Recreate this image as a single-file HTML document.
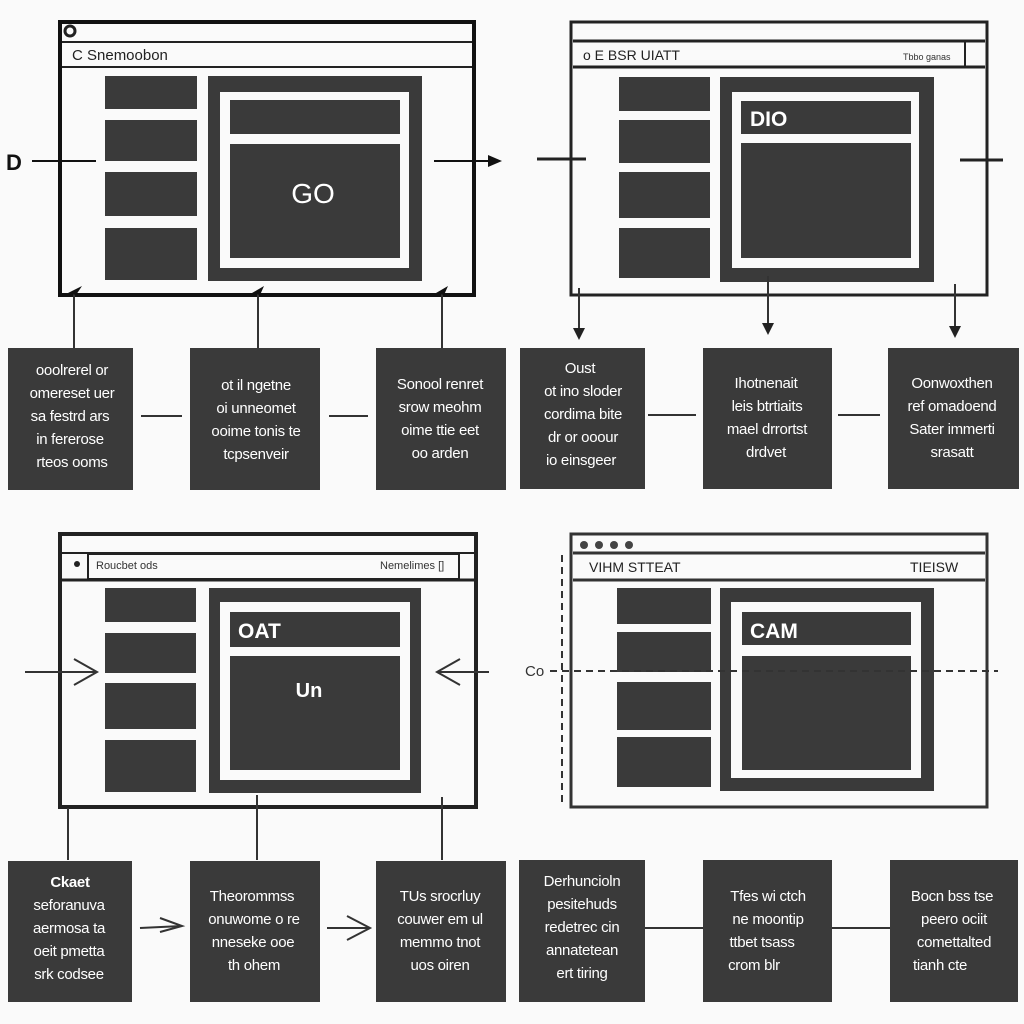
<!DOCTYPE html>
<html><head><meta charset="utf-8"><style>
html,body{margin:0;padding:0;background:#fafafa;width:1024px;height:1024px;overflow:hidden}
svg{display:block}
.bt{font-family:"Liberation Sans",sans-serif;font-size:15px;fill:#fff;text-anchor:middle;letter-spacing:-0.3px}
.d{fill:#3a3a3a}
.w{fill:#fafafa}
.ln{stroke:#333;stroke-width:2;fill:none}
</style></head><body>
<svg width="1024" height="1024" viewBox="0 0 1024 1024" xmlns="http://www.w3.org/2000/svg">
<rect width="1024" height="1024" fill="#fafafa"/>

<!-- Q1 -->
<rect x="60" y="22" width="414" height="273" fill="#fafafa" stroke="#111" stroke-width="4"/>
<line x1="62" y1="42" x2="472" y2="42" stroke="#222" stroke-width="2"/>
<line x1="62" y1="67" x2="472" y2="67" stroke="#222" stroke-width="2"/>
<circle cx="70" cy="31" r="5" fill="none" stroke="#222" stroke-width="3"/>
<text x="72" y="60" font-family="Liberation Sans,sans-serif" font-size="15" fill="#222">C  Snemoobon</text>
<rect x="105" y="76" width="92" height="33" class="d"/>
<rect x="105" y="120" width="92" height="41" class="d"/>
<rect x="105" y="172" width="92" height="44" class="d"/>
<rect x="105" y="228" width="92" height="52" class="d"/>
<rect x="208" y="76" width="214" height="205" class="d"/>
<rect x="220" y="92" width="189" height="176" fill="#fafafa"/>
<rect x="230" y="100" width="170" height="34" class="d"/>
<rect x="230" y="144" width="170" height="114" class="d"/>
<text x="313" y="203" font-family="Liberation Sans,sans-serif" font-size="28" fill="#fff" text-anchor="middle">GO</text>
<text x="6" y="170" font-family="Liberation Sans,sans-serif" font-size="22" font-weight="bold" fill="#111">D</text>
<line x1="32" y1="161" x2="96" y2="161" stroke="#111" stroke-width="2"/>
<line x1="434" y1="161" x2="492" y2="161" stroke="#111" stroke-width="2"/>
<polygon points="502,161 488,155 488,167" fill="#111"/>
<line x1="74" y1="348" x2="74" y2="292" class="ln"/><polygon points="68,293 82,286 76,295" fill="#111"/>
<line x1="258" y1="348" x2="258" y2="292" class="ln"/><polygon points="252,293 264,286 260,295" fill="#111"/>
<line x1="442" y1="348" x2="442" y2="292" class="ln"/><polygon points="436,293 448,286 444,295" fill="#111"/>
<line x1="141" y1="416" x2="182" y2="416" class="ln"/>
<line x1="329" y1="416" x2="368" y2="416" class="ln"/>
<rect x="8" y="348" width="125" height="142" class="d"/>
<rect x="190" y="348" width="130" height="142" class="d"/>
<rect x="376" y="348" width="130" height="142" class="d"/>
<text class="bt" x="72" y="375">ooolrerel or</text><text class="bt" x="72" y="398">omereset uer</text><text class="bt" x="70" y="421">sa festrd ars</text><text class="bt" x="70" y="444">in fererose</text><text class="bt" x="72" y="467">rteos ooms</text>
<text class="bt" x="256" y="390">ot il ngetne</text><text class="bt" x="256" y="413">oi unneomet</text><text class="bt" x="256" y="436">ooime tonis te</text><text class="bt" x="256" y="459">tcpsenveir</text>
<text class="bt" x="440" y="389">Sonool renret</text><text class="bt" x="440" y="412">srow meohm</text><text class="bt" x="440" y="435">oime ttie eet</text><text class="bt" x="440" y="458">oo arden</text>

<!-- Q2 -->
<rect x="571" y="22" width="416" height="273" fill="#fafafa" stroke="#222" stroke-width="3"/>
<line x1="573" y1="41" x2="985" y2="41" stroke="#222" stroke-width="3"/>
<line x1="573" y1="67" x2="985" y2="67" stroke="#222" stroke-width="3"/>
<line x1="965" y1="42" x2="965" y2="66" stroke="#222" stroke-width="2"/>
<text x="583" y="60" font-family="Liberation Sans,sans-serif" font-size="14" fill="#222">o   E   BSR UIATT</text>
<text x="903" y="60" font-family="Liberation Sans,sans-serif" font-size="9" fill="#333">Tbbo ganas</text>
<rect x="619" y="77" width="91" height="34" class="d"/>
<rect x="619" y="120" width="91" height="43" class="d"/>
<rect x="619" y="172" width="91" height="46" class="d"/>
<rect x="619" y="228" width="91" height="50" class="d"/>
<rect x="720" y="77" width="214" height="205" class="d"/>
<rect x="732" y="92" width="187" height="176" fill="#fafafa"/>
<rect x="741" y="101" width="170" height="33" class="d"/>
<rect x="741" y="143" width="170" height="115" class="d"/>
<text x="750" y="126" font-family="Liberation Sans,sans-serif" font-size="21" font-weight="bold" fill="#fff">DIO</text>
<line x1="537" y1="159" x2="586" y2="159" stroke="#222" stroke-width="3"/>
<line x1="960" y1="160" x2="1003" y2="160" stroke="#222" stroke-width="3"/>
<line x1="579" y1="288" x2="579" y2="330" class="ln"/><polygon points="573,328 585,328 579,340" fill="#222"/>
<line x1="768" y1="276" x2="768" y2="325" class="ln"/><polygon points="762,323 774,323 768,335" fill="#222"/>
<line x1="955" y1="284" x2="955" y2="328" class="ln"/><polygon points="949,326 961,326 955,338" fill="#222"/>
<line x1="648" y1="415" x2="696" y2="415" class="ln"/>
<line x1="838" y1="415" x2="880" y2="415" class="ln"/>
<rect x="520" y="348" width="125" height="141" class="d"/>
<rect x="703" y="348" width="129" height="141" class="d"/>
<rect x="888" y="348" width="131" height="141" class="d"/>
<text class="bt" x="580" y="373">Oust</text><text class="bt" x="583" y="396">ot ino sloder</text><text class="bt" x="583" y="419">cordima bite</text><text class="bt" x="583" y="442">dr or ooour</text><text class="bt" x="581" y="465">io einsgeer</text>
<text class="bt" x="766" y="388">Ihotnenait</text><text class="bt" x="767" y="411">leis btrtiaits</text><text class="bt" x="767" y="434">mael drrortst</text><text class="bt" x="766" y="457">drdvet</text>
<text class="bt" x="952" y="388">Oonwoxthen</text><text class="bt" x="952" y="411">ref omadoend</text><text class="bt" x="952" y="434">Sater immerti</text><text class="bt" x="952" y="457">srasatt</text>

<!-- Q3 -->
<rect x="60" y="534" width="416" height="273" fill="#fafafa" stroke="#222" stroke-width="4"/>
<line x1="62" y1="553" x2="474" y2="553" stroke="#222" stroke-width="2"/>
<line x1="62" y1="580" x2="474" y2="580" stroke="#222" stroke-width="3"/>
<rect x="88" y="554" width="371" height="25" fill="none" stroke="#222" stroke-width="2"/>
<circle cx="77" cy="564" r="3" fill="#222"/>
<text x="96" y="569" font-family="Liberation Sans,sans-serif" font-size="11" fill="#333">Roucbet ods</text>
<text x="380" y="569" font-family="Liberation Sans,sans-serif" font-size="11" fill="#333">Nemelimes  []</text>
<rect x="105" y="588" width="91" height="34" class="d"/>
<rect x="105" y="633" width="91" height="40" class="d"/>
<rect x="105" y="683" width="91" height="46" class="d"/>
<rect x="105" y="740" width="91" height="52" class="d"/>
<rect x="209" y="588" width="212" height="205" class="d"/>
<rect x="220" y="602" width="190" height="178" fill="#fafafa"/>
<rect x="230" y="612" width="170" height="35" class="d"/>
<rect x="230" y="656" width="170" height="114" class="d"/>
<text x="238" y="638" font-family="Liberation Sans,sans-serif" font-size="21" font-weight="bold" fill="#fff">OAT</text>
<text x="309" y="697" font-family="Liberation Sans,sans-serif" font-size="20" font-weight="bold" fill="#fff" text-anchor="middle">Un</text>
<line x1="25" y1="672" x2="97" y2="672" class="ln"/><polyline points="74,659 97,672 74,685" class="ln"/>
<line x1="437" y1="672" x2="489" y2="672" class="ln"/><polyline points="460,659 437,672 460,685" class="ln"/>
<line x1="68" y1="808" x2="68" y2="860" class="ln"/>
<line x1="257" y1="795" x2="257" y2="860" class="ln"/>
<line x1="442" y1="797" x2="442" y2="860" class="ln"/>
<line x1="140" y1="928" x2="182" y2="926" class="ln"/><polyline points="160,918 182,926 160,932" class="ln"/>
<line x1="327" y1="928" x2="370" y2="928" class="ln"/><polyline points="347,916 370,928 347,940" class="ln"/>
<rect x="8" y="861" width="124" height="141" class="d"/>
<rect x="190" y="861" width="130" height="141" class="d"/>
<rect x="376" y="861" width="130" height="141" class="d"/>
<text class="bt" x="70" y="887" font-weight="bold">Ckaet</text><text class="bt" x="69" y="910">seforanuva</text><text class="bt" x="69" y="933">aermosa ta</text><text class="bt" x="69" y="956">oeit pmetta</text><text class="bt" x="69" y="979">srk codsee</text>
<text class="bt" x="252" y="901">Theorommss</text><text class="bt" x="254" y="924">onuwome o re</text><text class="bt" x="253" y="947">nneseke ooe</text><text class="bt" x="254" y="970">th ohem</text>
<text class="bt" x="440" y="901">TUs srocrluy</text><text class="bt" x="440" y="924">couwer em ul</text><text class="bt" x="440" y="947">memmo tnot</text><text class="bt" x="440" y="970">uos oiren</text>

<!-- Q4 -->
<rect x="571" y="534" width="416" height="273" fill="#fafafa" stroke="#333" stroke-width="3"/>
<line x1="573" y1="553" x2="985" y2="553" stroke="#333" stroke-width="3"/>
<line x1="573" y1="580" x2="985" y2="580" stroke="#333" stroke-width="3"/>
<circle cx="584" cy="545" r="4" fill="#444"/><circle cx="599" cy="545" r="4" fill="#444"/><circle cx="614" cy="545" r="4" fill="#444"/><circle cx="629" cy="545" r="4" fill="#444"/>
<text x="589" y="572" font-family="Liberation Sans,sans-serif" font-size="14" fill="#222">VIHM STTEAT</text>
<text x="910" y="572" font-family="Liberation Sans,sans-serif" font-size="14" fill="#222">TIEISW</text>
<rect x="617" y="588" width="94" height="36" class="d"/>
<rect x="617" y="632" width="94" height="40" class="d"/>
<rect x="617" y="682" width="94" height="48" class="d"/>
<rect x="617" y="737" width="94" height="50" class="d"/>
<rect x="720" y="588" width="214" height="203" class="d"/>
<rect x="731" y="602" width="190" height="176" fill="#fafafa"/>
<rect x="742" y="612" width="169" height="33" class="d"/>
<rect x="742" y="656" width="169" height="114" class="d"/>
<text x="750" y="638" font-family="Liberation Sans,sans-serif" font-size="21" font-weight="bold" fill="#fff">CAM</text>
<line x1="562" y1="555" x2="562" y2="802" stroke="#333" stroke-width="2" stroke-dasharray="7,5"/>
<line x1="550" y1="671" x2="998" y2="671" stroke="#333" stroke-width="2" stroke-dasharray="7,5"/>
<text x="525" y="676" font-family="Liberation Sans,sans-serif" font-size="15" fill="#333">Co</text>
<line x1="645" y1="928" x2="703" y2="928" class="ln"/>
<line x1="812" y1="928" x2="890" y2="928" class="ln"/>
<rect x="519" y="860" width="126" height="142" class="d"/>
<rect x="703" y="860" width="129" height="142" class="d"/>
<rect x="890" y="860" width="128" height="142" class="d"/>
<text class="bt" x="582" y="886">Derhuncioln</text><text class="bt" x="582" y="909">pesitehuds</text><text class="bt" x="582" y="932">redetrec cin</text><text class="bt" x="582" y="955">annatetean</text><text class="bt" x="582" y="978">ert tiring</text>
<text class="bt" x="768" y="901">Tfes wi ctch</text><text class="bt" x="768" y="924">ne moontip</text><text class="bt" x="762" y="947">ttbet tsass</text><text class="bt" x="754" y="970">crom blr</text>
<text class="bt" x="952" y="901">Bocn bss tse</text><text class="bt" x="954" y="924">peero ociit</text><text class="bt" x="954" y="947">comettalted</text><text class="bt" x="940" y="970">tianh cte</text>
</svg>
</body></html>
